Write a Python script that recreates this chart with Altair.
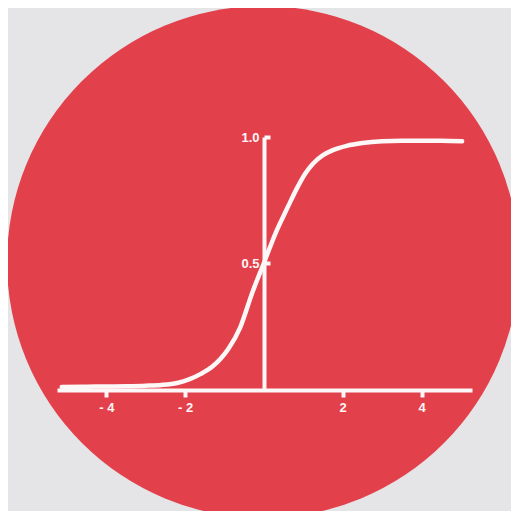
import altair as alt
import pandas as pd

# Curve values
curve_x = [-5.13, -4.5, -4.0, -3.5, -3.0, -2.6, -2.2, -1.9, -1.6, -1.3, -1.1, -0.9,
           -0.6, -0.3, 0.0, 0.3, 0.6, 0.85, 1.05, 1.25, 1.5, 1.75, 2.1, 2.5, 3.0, 3.5,
           4.0, 4.5, 5.03]
curve_y = [0.008, 0.009, 0.01, 0.011, 0.013, 0.016, 0.024, 0.038, 0.06, 0.09, 0.12, 0.16,
           0.245, 0.38, 0.5, 0.62, 0.72, 0.80, 0.855, 0.895, 0.928, 0.948, 0.965, 0.976,
           0.983, 0.985, 0.985, 0.985, 0.983]
x_ticks = [-4, -2, 2, 4]
y_ticks = [0.5, 1.0]

RED = "#e2404b"
BG = "#e5e4e7"
WHITE = "#fdf7f7"
FONT = "Liberation Sans"

df = pd.DataFrame({"x": curve_x, "y": curve_y})

W, H = 503, 503

xscale = alt.Scale(domain=[-5.25, 5.28], range=[49, 464], nice=False, zero=False)
yscale = alt.Scale(domain=[0, 1], range=[381, 129], nice=False, zero=False)

circle = alt.Chart(pd.DataFrame({"a": [0]})).mark_circle(
    size=512 * 512, opacity=1, color=RED
).encode(x=alt.value(255), y=alt.value(254))

line = alt.Chart(df).mark_line(
    color=WHITE, strokeWidth=4.5, interpolate="monotone", strokeCap="round"
).encode(
    x=alt.X("x:Q", scale=xscale, axis=alt.Axis(
        orient="bottom", offset=-(H - 382), values=x_ticks, title=None,
        domainColor=WHITE, domainWidth=4, tickColor=WHITE, tickWidth=4, tickSize=7,
        labelColor=WHITE, labelFont=FONT, labelFontSize=13, labelFontWeight="bold",
        labelPadding=4, grid=False, zindex=2,
        labelExpr="datum.value < 0 ? '- ' + (-datum.value) : '' + datum.value")),
    y=alt.Y("y:Q", scale=yscale, axis=alt.Axis(
        orient="left", offset=-256, values=y_ticks, title=None, format=".1f",
        domainColor=WHITE, domainWidth=4, ticks=False, labelPadding=5,
        labelColor=WHITE, labelFont=FONT, labelFontSize=13, labelFontWeight="bold",
        grid=False, zindex=2)),
)

yticks_layer = alt.Chart(df).mark_line(opacity=0).encode(
    x=alt.X("x:Q", scale=xscale, axis=None),
    y=alt.Y("y:Q", scale=yscale, axis=alt.Axis(
        orient="right", offset=-(W - 256), values=y_ticks, title=None, labels=False,
        domain=False, tickColor=WHITE, tickWidth=4, tickSize=6, grid=False, zindex=2)),
)

chart = alt.layer(circle, line, yticks_layer).resolve_axis(
    x="independent", y="independent"
).properties(
    width=W, height=H, autosize=alt.AutoSizeParams(type="none"), padding=0,
    background=BG
).configure_view(stroke=None)

chart.save("out.html", embed_options={"renderer": "svg", "actions": False})
